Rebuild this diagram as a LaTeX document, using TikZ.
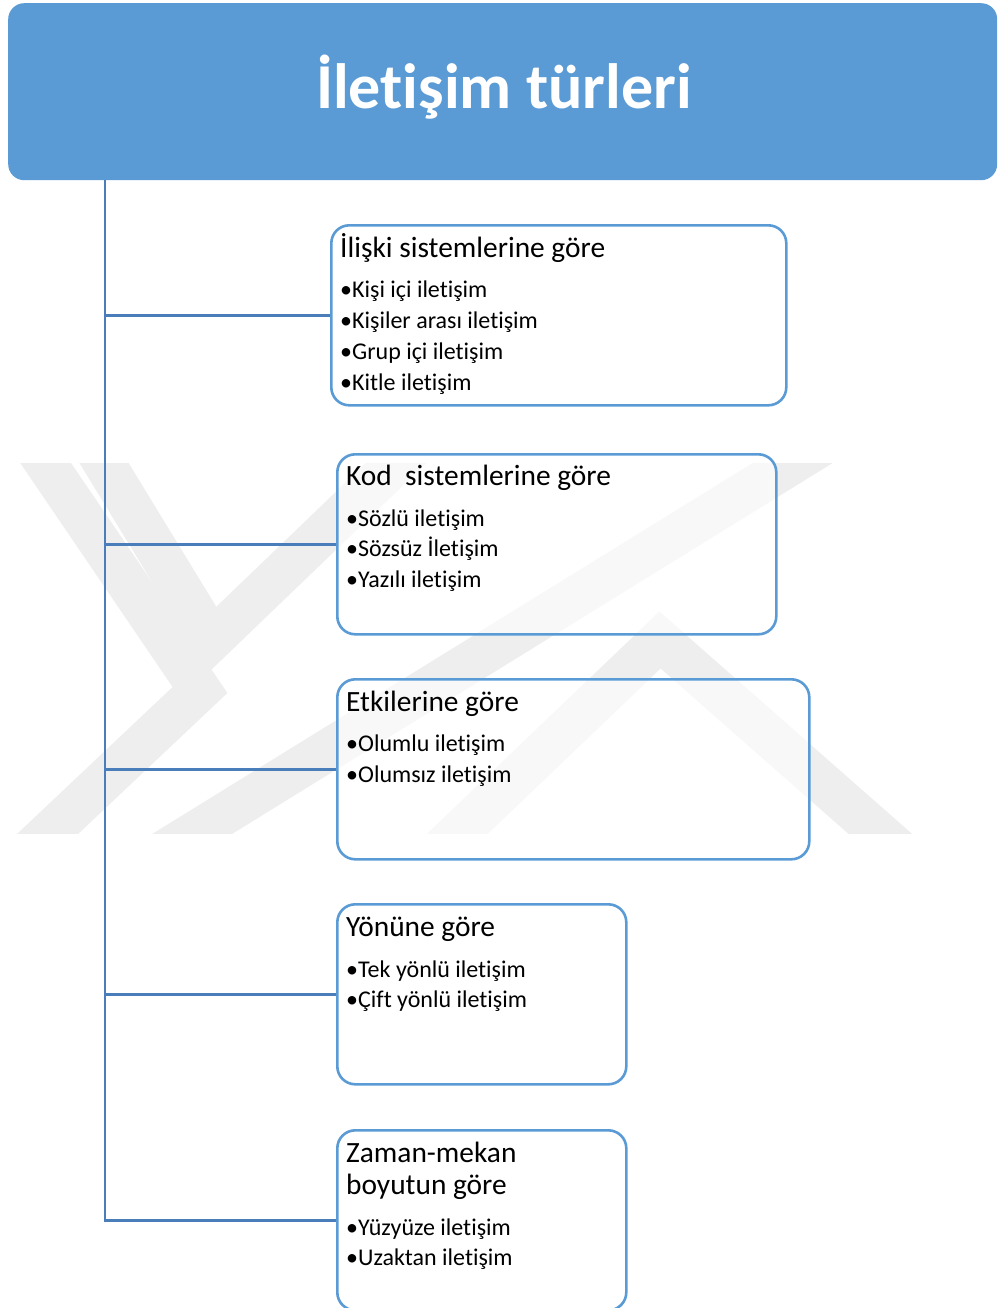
\documentclass[tikz,border=0pt]{standalone}
\usepackage{fontspec}
\setmainfont{Carlito}[Ligatures=NoCommon]
\usetikzlibrary{positioning}
\definecolor{baslikmavi}{HTML}{5B9BD5}
\definecolor{hatmavi}{HTML}{4A7EBB}
\definecolor{filigran}{HTML}{EEEEEE}
\tikzset{
  anabaslik/.style={fill=baslikmavi, rounded corners=16pt, anchor=north west,
    minimum width=989pt, minimum height=177pt, inner sep=0pt},
  basliktext/.style={anchor=base, text=white, inner sep=0pt,
    font=\fontsize{64}{74}\selectfont\bfseries},
  kutu/.style={draw=baslikmavi, line width=2.6pt, rounded corners=18pt,
    fill=white, fill opacity=0.6, draw opacity=1, anchor=north west,
    minimum height=180pt, inner sep=0pt},
  kutubaslik/.style={anchor=base west, inner sep=0pt, font=\fontsize{29.4}{33}\selectfont},
  madde/.style={anchor=base west, inner sep=0pt, font=\fontsize{24}{28}\selectfont},
  hat/.style={draw=hatmavi, line width=2.8pt},
  serit/.style={draw=filigran, line width=42pt}
}
\begin{document}
\begin{tikzpicture}[x=1pt,y=-1pt]
\useasboundingbox (0,0) rectangle (997,1308);
\begin{scope}
\clip (0,463) rectangle (997,833);
\draw[serit] (30,440) -- (200,690) -- (20,860);
\draw[serit] (90,440) -- (212,640) -- (420,440);
\draw[serit] (150,860) -- (830,440);
\draw[serit] (430,860) -- (660,640) -- (910,860);
\end{scope}
\node[anabaslik] (baslik) at (8,3) {};
\node[basliktext] (bt) at (504,109) {İletişim türleri};
\coordinate (govde) at (105,180);
\node[kutu, minimum width=455pt] (k1) at (330,224) {};
\node[kutu, minimum width=439pt] (k2) at (336,453) {};
\node[kutu, minimum width=472pt] (k3) at (336,678) {};
\node[kutu, minimum width=289pt] (k4) at (336,903) {};
\node[kutu, minimum width=289pt] (k5) at (336,1129) {};
\draw[hat] (govde) -- (k5.west -| govde) -- (k5.west);
\foreach \k in {k1,k2,k3,k4}
  \draw[hat] (\k.west -| govde) -- (\k.west);
\node[kutubaslik] (b1) at (340,257) {İlişki sistemlerine göre};
\node[madde] (m11) at (340,297) {•Kişi içi iletişim};
\node[madde] (m12) at (340,328) {•Kişiler arası iletişim};
\node[madde] (m13) at (340,359) {•Grup içi iletişim};
\node[madde] (m14) at (340,390) {•Kitle iletişim};
\node[kutubaslik] (b2) at (346,485) {Kod\ \ sistemlerine göre};
\node[madde] (m21) at (346,526) {•Sözlü iletişim};
\node[madde] (m22) at (346,556) {•Sözsüz İletişim};
\node[madde] (m23) at (346,587) {•Yazılı iletişim};
\node[kutubaslik] (b3) at (346,711) {Etkilerine göre};
\node[madde] (m31) at (346,751) {•Olumlu iletişim};
\node[madde] (m32) at (346,782) {•Olumsız iletişim};
\node[kutubaslik] (b4) at (346,936) {Yönüne göre};
\node[madde] (m41) at (346,977) {•Tek yönlü iletişim};
\node[madde] (m42) at (346,1007) {•Çift yönlü iletişim};
\node[kutubaslik] (b5) at (346,1162) {Zaman-mekan};
\node[kutubaslik] (b6) at (346,1194) {boyutun göre};
\node[madde] (m51) at (346,1235) {•Yüzyüze iletişim};
\node[madde] (m52) at (346,1265) {•Uzaktan iletişim};
\end{tikzpicture}
\end{document}
